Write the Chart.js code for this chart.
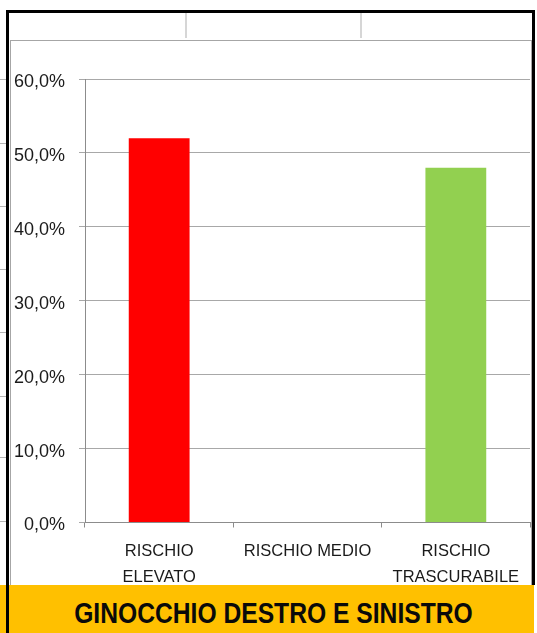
<!DOCTYPE html>
<html>
<head>
<meta charset="utf-8">
<script src="https://cdn.jsdelivr.net/npm/chart.js@4"></script>
<style>
  html, body { margin: 0; padding: 0; background: #fff; }
  body { width: 537px; height: 633px; position: relative; overflow: hidden; }
  .abs { position: absolute; }
  .tick { position: absolute; left: 0; width: 6px; height: 1px; background: #b4b4b4; }
  #box { left: 10px; top: 40px; width: 520px; height: 544px; border: 1px solid #a6a6a6; background: #fff; }
  #title {
    left: 0; top: 585px; width: 534px; height: 48px; background: #FFC000;
    text-align: center; line-height: 56px; overflow: hidden;
  }
  #title span {
    display: inline-block; margin-left: 13px;
    font-family: "Liberation Sans", Arial, sans-serif;
    font-weight: bold; font-size: 29px; color: #0a0a0a;
    transform: scaleX(0.85); transform-origin: center;
  }
</style>
</head>
<body>
<div class="abs" style="left:185px;top:12px;width:2px;height:26px;background:#d6d6d6"></div>
<div class="abs" style="left:360px;top:12px;width:2px;height:26px;background:#d6d6d6"></div>
<div class="tick" style="top:79px"></div>
<div class="tick" style="top:143px"></div>
<div class="tick" style="top:206px"></div>
<div class="tick" style="top:269px"></div>
<div class="tick" style="top:332px"></div>
<div class="tick" style="top:396px"></div>
<div class="tick" style="top:457px"></div>
<div class="tick" style="top:521px"></div>
<div id="box" class="abs">
  <canvas id="chart" width="520" height="544"></canvas>
</div>
<div id="title" class="abs"><span>GINOCCHIO DESTRO E SINISTRO</span></div>
<div class="abs" style="left:7px;top:10px;width:528px;height:3px;background:#000"></div>
<div class="abs" style="left:6px;top:10px;width:3px;height:623px;background:#000"></div>
<div class="abs" style="left:532px;top:10px;width:3px;height:575px;background:#000"></div>

<script>
// categorie e valori
const categories = [['RISCHIO', 'ELEVATO'], 'RISCHIO MEDIO', ['RISCHIO', 'TRASCURABILE']];
const values = [0.52, 0, 0.48];
const barColors = ['#FF0000', '#FF0000', '#92D050'];
const yMax = 0.6;
const yStep = 0.1;

function percentLabel(v)
{
  return (v * 100).toFixed(1).replace('.', ',') + '%';
}

const config =
{
  type: 'bar',
  data: {
    labels: categories,
    datasets: [{
      data: values,
      backgroundColor: barColors,
      categoryPercentage: 1,
      barPercentage: 0.41
    }]
  },
  options:
  {
    animation: false,
    responsive: false,
    devicePixelRatio: 1,
    layout: { padding: { top: 38, right: 1, left: 0, bottom: 0 } },
    plugins: {
      legend: { display: false },
      tooltip: { enabled: false }
    },
    scales:
    {
      x: {
        grid: { display: true, drawOnChartArea: false, drawTicks: true, tickLength: 5, color: '#8c8c8c' },
        border: { display: true, color: '#8c8c8c', width: 1 },
        ticks: { color: '#1a1a1a', font: { family: 'Liberation Sans', size: 16.5, lineHeight: '26px' }, padding: 11, maxRotation: 0, autoSkip: false },
        afterFit: function (scale) { scale.height = 62.5; }
      },
      y: {
        min: 0,
        max: yMax,
        ticks: { stepSize: yStep, callback: percentLabel, color: '#1a1a1a', font: { family: 'Liberation Sans', size: 18 }, padding: 14, labelOffset: 3 },
        grid: { color: '#a8a8a8', tickLength: 6, lineWidth: 1 },
        border: { display: true, color: '#8c8c8c', width: 1 },
        afterFit: function (scale) { scale.width = 74; }
      }
    }
  }
};

new Chart(document.getElementById('chart'), config);
</script>
</body>
</html>
